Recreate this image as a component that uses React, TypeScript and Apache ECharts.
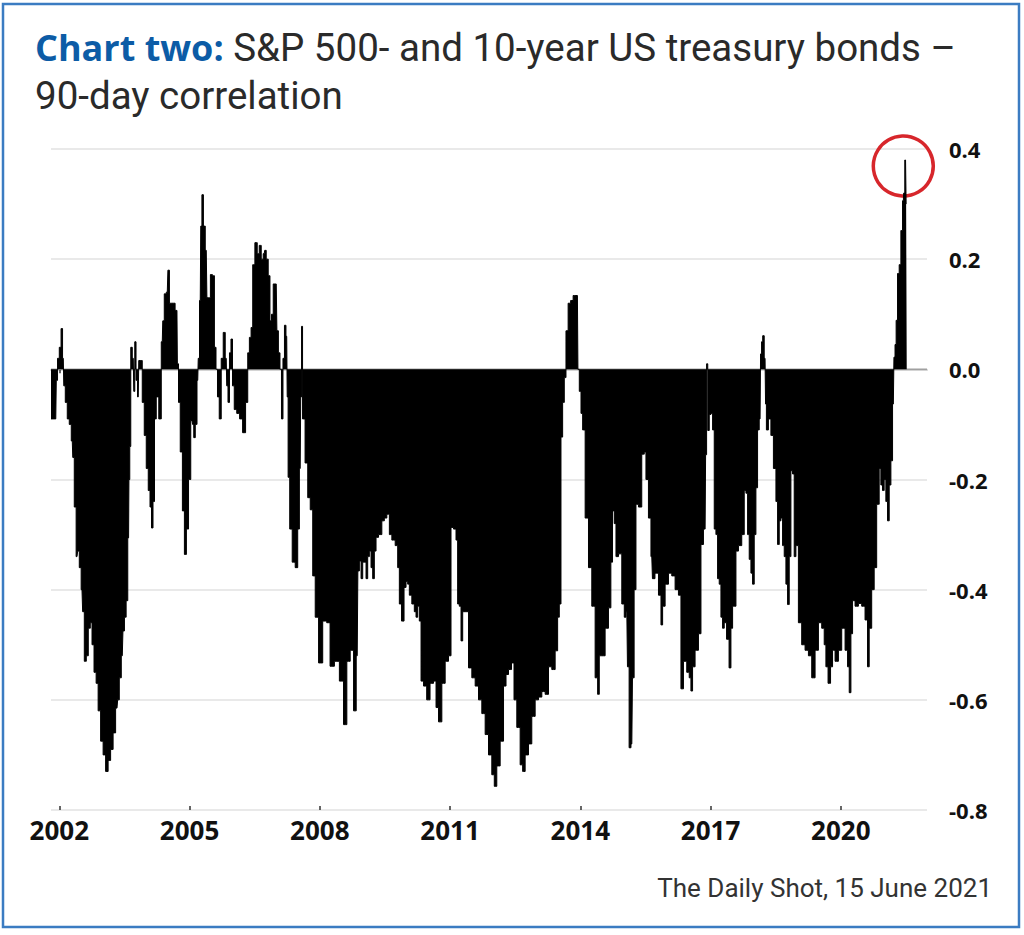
import React, { useEffect, useRef } from 'react';
import * as echarts from 'echarts';

// Decimal years (x) and 90-day correlation values (y)
const years = [
  2001.809, 2001.862, 2001.919, 2001.942, 2001.977, 2002.023, 2002.058, 2002.092, 2002.115, 2002.161,
  2002.207, 2002.253, 2002.299, 2002.322, 2002.368, 2002.408, 2002.437, 2002.484, 2002.523, 2002.553,
  2002.599, 2002.645, 2002.691, 2002.737, 2002.771, 2002.829, 2002.868, 2002.921, 2002.983, 2003.036,
  2003.098, 2003.151, 2003.213, 2003.266, 2003.329, 2003.359, 2003.405, 2003.451, 2003.481, 2003.520,
  2003.559, 2003.596, 2003.612, 2003.635, 2003.658, 2003.704, 2003.727, 2003.750, 2003.785, 2003.819,
  2003.842, 2003.888, 2003.934, 2003.980, 2004.026, 2004.072, 2004.107, 2004.141, 2004.176, 2004.210,
  2004.257, 2004.326, 2004.372, 2004.395, 2004.441, 2004.487, 2004.517, 2004.556, 2004.625, 2004.710,
  2004.729, 2004.763, 2004.809, 2004.862, 2004.901, 2004.954, 2005.000, 2005.056, 2005.085, 2005.109,
  2005.155, 2005.189, 2005.212, 2005.247, 2005.270, 2005.300, 2005.339, 2005.385, 2005.415, 2005.461,
  2005.500, 2005.553, 2005.592, 2005.627, 2005.661, 2005.707, 2005.753, 2005.799, 2005.845, 2005.868,
  2005.903, 2005.937, 2005.972, 2006.007, 2006.053, 2006.122, 2006.184, 2006.260, 2006.322, 2006.359,
  2006.398, 2006.437, 2006.474, 2006.536, 2006.582, 2006.628, 2006.674, 2006.720, 2006.743, 2006.789,
  2006.835, 2006.870, 2006.905, 2006.951, 2006.997, 2007.027, 2007.066, 2007.100, 2007.135, 2007.169,
  2007.204, 2007.238, 2007.261, 2007.280, 2007.335, 2007.395, 2007.473, 2007.510, 2007.549, 2007.572,
  2007.588, 2007.618, 2007.704, 2007.741, 2007.819, 2007.856, 2007.934, 2008.010, 2008.125, 2008.194,
  2008.279, 2008.394, 2008.509, 2008.585, 2008.661, 2008.740, 2008.816, 2008.862, 2008.892, 2008.931,
  2008.970, 2009.007, 2009.046, 2009.085, 2009.122, 2009.161, 2009.200, 2009.237, 2009.276, 2009.315,
  2009.391, 2009.467, 2009.506, 2009.583, 2009.622, 2009.698, 2009.776, 2009.813, 2009.852, 2009.914,
  2009.967, 2010.006, 2010.043, 2010.082, 2010.158, 2010.197, 2010.236, 2010.273, 2010.312, 2010.352,
  2010.428, 2010.497, 2010.582, 2010.658, 2010.697, 2010.773, 2010.849, 2010.927, 2011.003, 2011.042,
  2011.118, 2011.157, 2011.194, 2011.233, 2011.273, 2011.310, 2011.388, 2011.464, 2011.540, 2011.618,
  2011.694, 2011.770, 2011.848, 2011.924, 2012.000, 2012.039, 2012.115, 2012.194, 2012.270, 2012.309,
  2012.385, 2012.447, 2012.500, 2012.576, 2012.654, 2012.691, 2012.769, 2012.845, 2012.921, 2013.000,
  2013.076, 2013.152, 2013.230, 2013.306, 2013.382, 2013.460, 2013.497, 2013.536, 2013.575, 2013.612,
  2013.651, 2013.690, 2013.750, 2013.806, 2013.865, 2013.934, 2013.958, 2013.997, 2014.036, 2014.073,
  2014.151, 2014.227, 2014.303, 2014.381, 2014.418, 2014.457, 2014.533, 2014.611, 2014.687, 2014.722,
  2014.763, 2014.802, 2014.842, 2014.918, 2014.994, 2015.033, 2015.072, 2015.102, 2015.148, 2015.187,
  2015.217, 2015.263, 2015.302, 2015.378, 2015.454, 2015.493, 2015.532, 2015.608, 2015.647, 2015.677,
  2015.763, 2015.839, 2015.878, 2015.915, 2015.993, 2016.069, 2016.145, 2016.223, 2016.299, 2016.338,
  2016.414, 2016.490, 2016.529, 2016.568, 2016.605, 2016.683, 2016.760, 2016.799, 2016.875, 2016.898,
  2016.921, 2016.951, 2016.990, 2017.029, 2017.066, 2017.105, 2017.144, 2017.181, 2017.220, 2017.259,
  2017.296, 2017.335, 2017.404, 2017.450, 2017.490, 2017.527, 2017.566, 2017.605, 2017.681, 2017.757,
  2017.796, 2017.835, 2017.872, 2017.911, 2017.950, 2017.987, 2018.026, 2018.065, 2018.102, 2018.141,
  2018.164, 2018.187, 2018.217, 2018.256, 2018.279, 2018.295, 2018.371, 2018.410, 2018.487, 2018.526,
  2018.563, 2018.602, 2018.641, 2018.678, 2018.717, 2018.756, 2018.793, 2018.832, 2018.871, 2018.908,
  2018.947, 2018.986, 2019.062, 2019.138, 2019.217, 2019.293, 2019.369, 2019.447, 2019.523, 2019.599,
  2019.638, 2019.677, 2019.737, 2019.792, 2019.829, 2019.908, 2019.983, 2020.060, 2020.138, 2020.175,
  2020.214, 2020.253, 2020.290, 2020.368, 2020.444, 2020.520, 2020.598, 2020.635, 2020.674, 2020.750,
  2020.789, 2020.865, 2020.904, 2020.943, 2020.980, 2021.019, 2021.058, 2021.096, 2021.135, 2021.174,
  2021.211, 2021.238, 2021.261, 2021.289, 2021.326, 2021.365, 2021.404, 2021.441, 2021.457, 2021.492,
  2021.519,
];

const correlation = [
  -0.09, -0.09, -0.09, -0.02, 0.02, 0.04, 0.074, 0.02, -0.03, -0.06,
  -0.09, -0.10, -0.13, -0.16, -0.25, -0.34, -0.33, -0.36, -0.40, -0.44,
  -0.53, -0.52, -0.47, -0.46, -0.50, -0.55, -0.57, -0.62, -0.675, -0.70,
  -0.73, -0.71, -0.69, -0.66, -0.615, -0.60, -0.56, -0.52, -0.475, -0.45,
  -0.42, -0.306, -0.20, -0.14, 0.04, 0.02, -0.04, 0.05, -0.02, -0.05,
  0.016, 0.016, -0.06, -0.12, -0.18, -0.22, -0.25, -0.288, -0.24, -0.09,
  -0.05, -0.09, 0.05, 0.088, 0.137, 0.14, 0.18, 0.12, 0.12, 0.107,
  0.01, -0.06, -0.15, -0.257, -0.336, -0.29, -0.20, -0.093, -0.10, -0.124,
  -0.10, -0.02, 0.02, 0.125, 0.26, 0.317, 0.26, 0.216, 0.13, 0.13,
  0.172, 0.17, 0.04, 0.0, -0.05, -0.09, 0.02, 0.067, 0.02, -0.03,
  -0.06, 0.03, 0.055, -0.03, -0.073, -0.08, -0.09, -0.115, -0.06, 0.03,
  0.058, 0.076, 0.19, 0.23, 0.21, 0.225, 0.20, 0.21, 0.216, 0.20,
  0.17, 0.088, 0.10, 0.155, 0.155, 0.07, 0.03, 0.0, -0.09, 0.02,
  0.08, 0.06, -0.05, -0.196, -0.29, -0.35, -0.36, -0.29, -0.18, -0.05,
  0.078, -0.09, -0.17, -0.233, -0.255, -0.375, -0.45, -0.533, -0.457, -0.46,
  -0.539, -0.53, -0.566, -0.645, -0.53, -0.51, -0.62, -0.52, -0.366, -0.348,
  -0.38, -0.35, -0.35, -0.38, -0.34, -0.33, -0.36, -0.38, -0.33, -0.305,
  -0.30, -0.275, -0.27, -0.263, -0.30, -0.31, -0.32, -0.36, -0.426, -0.457,
  -0.396, -0.385, -0.39, -0.41, -0.426, -0.44, -0.45, -0.43, -0.457, -0.566,
  -0.575, -0.60, -0.57, -0.566, -0.614, -0.64, -0.57, -0.53, -0.52, -0.287,
  -0.29, -0.31, -0.426, -0.43, -0.493, -0.44, -0.44, -0.542, -0.56, -0.575,
  -0.60, -0.625, -0.663, -0.70, -0.736, -0.757, -0.72, -0.675, -0.575, -0.554,
  -0.545, -0.533, -0.60, -0.65, -0.718, -0.73, -0.70, -0.68, -0.63, -0.60,
  -0.595, -0.585, -0.59, -0.54, -0.545, -0.511, -0.45, -0.426, -0.123, -0.06,
  -0.015, 0.07, 0.12, 0.125, 0.134, 0.134, 0.0, -0.04, -0.08, -0.11,
  -0.27, -0.36, -0.43, -0.56, -0.59, -0.52, -0.52, -0.47, -0.433, -0.35,
  -0.257, -0.28, -0.34, -0.335, -0.426, -0.45, -0.44, -0.54, -0.687, -0.68,
  -0.56, -0.40, -0.245, -0.25, -0.154, -0.15, -0.20, -0.27, -0.34, -0.38,
  -0.37, -0.41, -0.464, -0.43, -0.39, -0.37, -0.375, -0.40, -0.41, -0.58,
  -0.53, -0.55, -0.56, -0.584, -0.54, -0.51, -0.48, -0.318, -0.29, -0.155,
  0.01, -0.111, -0.082, -0.08, -0.11, -0.29, -0.30, -0.38, -0.39, -0.45,
  -0.47, -0.46, -0.49, -0.542, -0.47, -0.43, -0.43, -0.33, -0.32, -0.30,
  -0.22, -0.225, -0.30, -0.345, -0.37, -0.39, -0.30, -0.215, -0.11, -0.09,
  0.028, 0.05, 0.061, 0.02, -0.063, -0.11, -0.09, -0.12, -0.18, -0.24,
  -0.318, -0.275, -0.27, -0.32, -0.34, -0.39, -0.427, -0.34, -0.184, -0.19,
  -0.34, -0.32, -0.46, -0.50, -0.51, -0.52, -0.56, -0.51, -0.46, -0.47,
  -0.50, -0.54, -0.57, -0.54, -0.51, -0.53, -0.51, -0.47, -0.51, -0.54,
  -0.587, -0.48, -0.42, -0.43, -0.425, -0.43, -0.455, -0.54, -0.47, -0.40,
  -0.36, -0.245, -0.18, -0.21, -0.22, -0.20, -0.24, -0.275, -0.21, -0.166,
  -0.063, 0.022, 0.045, 0.089, 0.174, 0.19, 0.252, 0.306, 0.32, 0.38,
  0.30,
];

const yearTicks = [2002, 2005, 2008, 2011, 2014, 2017, 2020];
const xMin = 2001.809;
const xMax = 2021.986;
const yMin = -0.8;
const yMax = 0.4;
const yStep = 0.2;

const titleBold = 'Chart two:';
const titleRest = ' S&P 500- and 10-year US treasury bonds –';
const titleLine2 = '90-day correlation';
const sourceText = 'The Daily Shot, 15 June 2021';
const highlightPoint = [2021.44, 0.369];

export default function App() {
  const ref = useRef<HTMLDivElement>(null);

  useEffect(() => {
    if (!ref.current) return;
    const chart = echarts.init(ref.current, null, { renderer: 'svg' });
    const data = years.map((y, i) => [y, correlation[i]]);

    chart.setOption({
      animation: false,
      backgroundColor: '#ffffff',
      grid: { left: 51, right: 97, top: 149, bottom: 125, containLabel: false },
      xAxis: [
        {
          type: 'value',
          min: xMin,
          max: xMax,
          axisLine: { show: true, lineStyle: { color: '#d4d4d4', width: 2 } },
          axisTick: {
            show: true,
            customValues: yearTicks,
            length: 4,
            lineStyle: { color: '#333', width: 1.5 },
          },
          axisLabel: {
            customValues: yearTicks,
            margin: 7,
            fontFamily: 'Open Sans',
            fontWeight: 'bold',
            fontSize: 26,
            color: '#111',
            formatter: (v: number) => String(Math.round(v)),
          },
          splitLine: { show: false },
        },
        {
          type: 'value',
          min: xMin,
          max: xMax,
          position: 'bottom',
          axisLine: { show: false },
          axisTick: {
            show: true,
            inside: true,
            customValues: yearTicks,
            length: 4,
            lineStyle: { color: '#333', width: 1.5 },
          },
          axisLabel: { show: false },
          splitLine: { show: false },
        },
      ],
      yAxis: {
        type: 'value',
        position: 'right',
        min: yMin,
        max: yMax,
        interval: yStep,
        axisLine: { show: false },
        axisTick: { show: false },
        axisLabel: {
          margin: 22,
          align: 'left',
          fontFamily: 'Open Sans',
          fontWeight: 'bold',
          fontSize: 22,
          color: '#111',
          formatter: (v: number) => (Math.abs(v) < 1e-9 ? '0.0' : v.toFixed(1)),
        },
        splitLine: { lineStyle: { color: '#e2e2e2', width: 1.5 } },
      },
      series: [
        {
          name: 'zero',
          type: 'line',
          data: [[xMin, 0], [xMax, 0]],
          symbol: 'none',
          silent: true,
          z: 1,
          lineStyle: { color: '#a0a0a0', width: 1.5 },
        },
        {
          name: 'correlation',
          type: 'line',
          data,
          step: 'middle',
          symbol: 'none',
          showSymbol: false,
          z: 2,
          lineStyle: { color: '#000', width: 1 },
          areaStyle: { color: '#000', opacity: 1 },
        },
      ],
    });

    const c = chart.convertToPixel({ xAxisIndex: 0, yAxisIndex: 0 }, highlightPoint) as number[];

    chart.setOption({
      graphic: [
        {
          id: 'frame',
          type: 'rect',
          shape: { x: 3, y: 4, width: 1016, height: 923 },
          style: { fill: 'none', stroke: '#3b7cc2', lineWidth: 2.5 },
          silent: true,
        },
        {
          id: 'title',
          type: 'text',
          left: 35,
          top: 28,
          style: {
            text: `{b|${titleBold}}{r|${titleRest}}\n{r|${titleLine2}}`,
            rich: {
              b: { fontFamily: 'Open Sans', fontWeight: 'bold', fontSize: 36, fill: '#0c5ca6', lineHeight: 48 },
              r: { fontFamily: 'Roboto', fontSize: 38.5, fill: '#2a2a2a', lineHeight: 48 },
            },
          },
        },
        {
          id: 'source',
          type: 'text',
          right: 32,
          top: 875,
          style: { text: sourceText, fontFamily: 'Roboto', fontSize: 26, fill: '#333' },
        },
        {
          id: 'ring',
          type: 'circle',
          shape: { cx: c[0], cy: c[1], r: 30 },
          style: { fill: 'none', stroke: '#d7262b', lineWidth: 3.5 },
          silent: true,
        },
      ],
    });

    return () => chart.dispose();
  }, []);

  return (
    <div
      ref={ref}
      style={{ position: 'fixed', left: 0, top: 0, width: 1024, height: 935, background: '#fff' }}
    />
  );
}
